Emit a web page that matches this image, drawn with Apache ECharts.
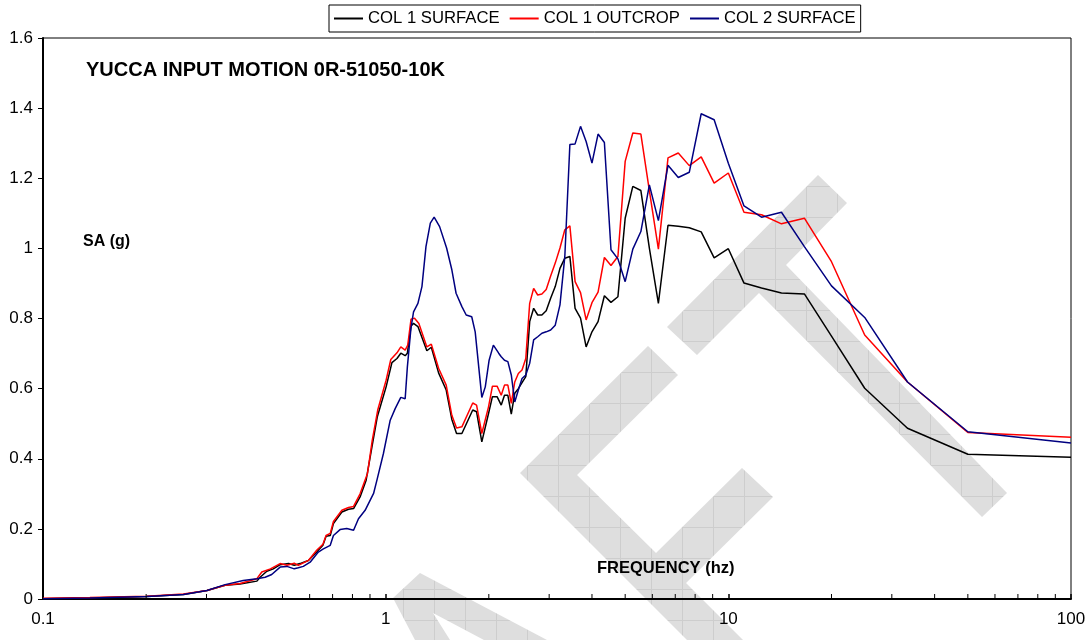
<!DOCTYPE html>
<html>
<head>
<meta charset="utf-8">
<script src="https://cdn.jsdelivr.net/npm/echarts@6/dist/echarts.min.js"></script>
<style>html,body{margin:0;padding:0;background:#fff}#c{width:1092px;height:640px}</style>
</head>
<body>
<div id="c"></div>
<script>
// ---------- DATA ----------
const SERIES_NAMES = ['COL 1 SURFACE', 'COL 1 OUTCROP', 'COL 2 SURFACE'];
const X_TICK_LABELS = ['0.1', '1', '10', '100'];
const Y_TICK_LABELS = ['0', '0.2', '0.4', '0.6', '0.8', '1', '1.2', '1.4', '1.6'];
const MINOR_X_TICKS = [0.2,0.3,0.4,0.5,0.6,0.7,0.8,0.9,2,3,4,5,6,7,8,9,20,30,40,50,60,70,80,90];

// shared high-frequency points (Hz)
const FREQ_HI = [100, 50, 33.33, 25, 20, 16.67, 14.29, 12.5, 11.11, 10, 9.091, 8.333, 7.692, 7.143, 6.667,
  6.25, 5.882, 5.556, 5.263, 5, 4.762, 4.545, 4.348, 4.167, 4, 3.846, 3.704, 3.571, 3.448, 3.333,
  3.226, 3.125, 3.03, 2.941, 2.857, 2.778, 2.703, 2.632, 2.564, 2.5, 2.439, 2.381, 2.326, 2.273, 2.222, 2.174];

const SURF1_HI = [0.404, 0.413, 0.487, 0.601, 0.75, 0.870, 0.873, 0.887, 0.901, 0.999, 0.973, 1.047, 1.059, 1.063, 1.066,
  0.843, 1.001, 1.165, 1.177, 1.086, 0.862, 0.846, 0.865, 0.791, 0.762, 0.719, 0.801, 0.829, 0.977, 0.972,
  0.943, 0.891, 0.858, 0.822, 0.810, 0.810, 0.829, 0.791, 0.634, 0.617, 0.600, 0.587, 0.527, 0.581, 0.581, 0.553];
const OUT1_HI = [0.461, 0.475, 0.619, 0.753, 0.962, 1.086, 1.070, 1.096, 1.103, 1.215, 1.186, 1.261, 1.236, 1.272, 1.258,
  0.998, 1.165, 1.326, 1.329, 1.248, 0.977, 0.951, 0.974, 0.875, 0.845, 0.796, 0.874, 0.905, 1.064, 1.053,
  1.001, 0.958, 0.921, 0.883, 0.870, 0.867, 0.886, 0.843, 0.686, 0.653, 0.643, 0.619, 0.558, 0.610, 0.610, 0.581];
const SURF2_HI = [0.445, 0.477, 0.619, 0.803, 0.893, 1.005, 1.103, 1.089, 1.121, 1.243, 1.367, 1.384, 1.217, 1.202, 1.237,
  1.079, 1.181, 1.048, 0.998, 0.905, 0.970, 0.996, 1.302, 1.326, 1.243, 1.305, 1.348, 1.298, 1.296, 0.977,
  0.839, 0.781, 0.767, 0.762, 0.758, 0.748, 0.739, 0.672, 0.639, 0.629, 0.596, 0.562, 0.639, 0.677, 0.681, 0.691];

// low-frequency points, per series
const SURF1_LO_FREQ = [2.114, 2.049, 1.996, 1.908, 1.842, 1.795, 1.669, 1.610, 1.560, 1.502, 1.427, 1.359, 1.319, 1.242, 1.206,
  1.186, 1.157, 1.140, 1.107, 1.079, 1.043, 1.003, 0.945, 0.912, 0.877, 0.842, 0.806, 0.779, 0.745, 0.704,
  0.689, 0.670, 0.656, 0.629, 0.595, 0.562, 0.541, 0.521, 0.492, 0.470, 0.450, 0.430, 0.421, 0.376, 0.340,
  0.301, 0.257, 0.201, 0.137, 0.1];
const SURF1_LO_SA = [0.577, 0.577, 0.529, 0.448, 0.534, 0.539, 0.472, 0.472, 0.512, 0.596, 0.645, 0.718, 0.708, 0.777, 0.786,
  0.779, 0.701, 0.694, 0.701, 0.686, 0.674, 0.605, 0.519, 0.434, 0.339, 0.291, 0.258, 0.256, 0.248, 0.215,
  0.181, 0.179, 0.153, 0.134, 0.110, 0.101, 0.096, 0.101, 0.098, 0.086, 0.079, 0.062, 0.051, 0.043, 0.039,
  0.024, 0.013, 0.007, 0.003, 0.001];

const OUT1_LO_FREQ = [2.114, 2.049, 1.996, 1.908, 1.842, 1.795, 1.669, 1.610, 1.560, 1.502, 1.427, 1.359, 1.319, 1.250, 1.214,
  1.186, 1.160, 1.140, 1.107, 1.079, 1.035, 1.003, 0.948, 0.914, 0.885, 0.842, 0.806, 0.779, 0.745, 0.704,
  0.689, 0.670, 0.656, 0.629, 0.595, 0.556, 0.541, 0.515, 0.492, 0.461, 0.435, 0.421, 0.376, 0.340, 0.301,
  0.257, 0.201, 0.137, 0.1];
const OUT1_LO_SA = [0.607, 0.607, 0.548, 0.472, 0.553, 0.559, 0.491, 0.488, 0.524, 0.610, 0.658, 0.727, 0.719, 0.786, 0.801,
  0.798, 0.724, 0.710, 0.719, 0.702, 0.683, 0.624, 0.539, 0.453, 0.358, 0.300, 0.264, 0.261, 0.253, 0.221,
  0.187, 0.181, 0.156, 0.139, 0.110, 0.096, 0.102, 0.096, 0.101, 0.086, 0.077, 0.058, 0.044, 0.039, 0.024,
  0.014, 0.008, 0.004, 0.002];

const SURF2_LO_FREQ = [2.137, 2.062, 2.004, 1.953, 1.908, 1.825, 1.783, 1.718, 1.669, 1.605, 1.560, 1.506, 1.437, 1.385, 1.350,
  1.311, 1.276, 1.242, 1.206, 1.185, 1.157, 1.140, 1.107, 1.066, 1.031, 0.985, 0.943, 0.922, 0.871, 0.833,
  0.806, 0.770, 0.736, 0.704, 0.689, 0.658, 0.636, 0.602, 0.575, 0.556, 0.541, 0.515, 0.492, 0.465, 0.445,
  0.421, 0.384, 0.340, 0.301, 0.257, 0.201, 0.137, 0.1];
const SURF2_LO_SA = [0.701, 0.724, 0.681, 0.605, 0.575, 0.762, 0.805, 0.810, 0.834, 0.872, 0.939, 1.001, 1.062, 1.089, 1.072,
  1.005, 0.891, 0.843, 0.819, 0.772, 0.662, 0.571, 0.575, 0.543, 0.510, 0.415, 0.339, 0.301, 0.253, 0.229,
  0.196, 0.201, 0.198, 0.181, 0.153, 0.143, 0.134, 0.105, 0.093, 0.089, 0.086, 0.093, 0.091, 0.070, 0.062,
  0.058, 0.053, 0.041, 0.024, 0.013, 0.007, 0.003, 0.001];

const TITLE_TEXT = 'YUCCA INPUT MOTION 0R-51050-10K';
const Y_NAME = 'SA (g)';
const X_NAME = 'FREQUENCY (hz)';

// ---------- BUILD ----------
function pairs(fx, vy) { return fx.map((f, i) => [f, vy[i]]); }
const dataS1 = pairs(FREQ_HI.concat(SURF1_LO_FREQ), SURF1_HI.concat(SURF1_LO_SA));
const dataO1 = pairs(FREQ_HI.concat(OUT1_LO_FREQ), OUT1_HI.concat(OUT1_LO_SA));
const dataS2 = pairs(FREQ_HI.concat(SURF2_LO_FREQ), SURF2_HI.concat(SURF2_LO_SA));

function makePattern() {
  const c = document.createElement('canvas');
  c.width = 31; c.height = 31;
  const ctx = c.getContext('2d');
  ctx.fillStyle = '#dedede'; ctx.fillRect(0, 0, 31, 31);
  ctx.fillStyle = '#cdcdcd'; ctx.fillRect(0, 0, 31, 1); ctx.fillRect(0, 0, 1, 31);
  return c;
}
const pat = { image: makePattern(), repeat: 'repeat' };
function wm(points) {
  return { type: 'polygon', z: -1, silent: true, shape: { points: points }, style: { fill: pat } };
}

const chart = echarts.init(document.getElementById('c'), null, { renderer: 'canvas' });
const FONT = 'Liberation Sans, Arial, Helvetica, sans-serif';
const lineColors = ['#000000', '#ff0000', '#000080'];

chart.setOption({
  animation: false,
  backgroundColor: '#ffffff',
  textStyle: { fontFamily: FONT, color: '#000' },
  graphic: [
    wm([[667,327],[818,175],[847,203],[786,265],[1007,493],[982,517],[759,293],[697,355]]),
    wm([[520,473],[648,346],[678,375],[577,475],[656,553],[742,468],[773,497],[686,583],[766,663],[710,663]]),
    wm([[393,598],[420,573],[547,640],[484,640],[433,613],[450,640],[415,640]])
  ],
  title: [
    { text: TITLE_TEXT, left: 86, top: 60, padding: 0, textStyle: { fontSize: 20, fontWeight: 'bold', color: '#000', fontFamily: FONT } },
    { text: Y_NAME, left: 83, top: 234, padding: 0, textStyle: { fontSize: 16, fontWeight: 'bold', color: '#000', fontFamily: FONT } },
    { text: X_NAME, left: 597, top: 560, padding: 0, textStyle: { fontSize: 16.5, fontWeight: 'bold', color: '#000', fontFamily: FONT } }
  ],
  legend: {
    data: SERIES_NAMES, left: 329, top: 5, icon: 'rect', itemWidth: 29, itemHeight: 2, itemGap: 10,
    padding: [5, 5, 5, 5], borderColor: '#000', borderWidth: 1,
    textStyle: { fontSize: 16.7, color: '#000', fontFamily: FONT }
  },
  grid: { left: 43, right: 21, top: 38, bottom: 41, show: true, borderColor: '#000', borderWidth: 1, backgroundColor: 'transparent' },
  xAxis: {
    type: 'log', logBase: 10, min: 0.1, max: 100,
    axisLine: { lineStyle: { color: '#000', width: 2 } },
    axisTick: { inside: true, length: 5, lineStyle: { color: '#000', width: 1.5 } },
    axisLabel: { fontSize: 17, color: '#000', margin: 12, fontFamily: FONT,
      formatter: function (v) { const i = Math.round(Math.log10(v)) + 1; return X_TICK_LABELS[i] !== undefined ? X_TICK_LABELS[i] : ''; } },
    splitLine: { show: false }
  },
  yAxis: {
    type: 'value', min: 0, max: 1.6, interval: 0.2,
    axisLine: { show: true, lineStyle: { color: '#000', width: 2 } },
    axisTick: { show: true, inside: false, length: 5, lineStyle: { color: '#000', width: 1 } },
    axisLabel: { fontSize: 17, color: '#000', margin: 10, fontFamily: FONT,
      formatter: function (v) { return Y_TICK_LABELS[Math.round(v / 0.2)]; } },
    splitLine: { show: false }
  },
  series: [
    { name: SERIES_NAMES[0], type: 'line', data: dataS1, symbol: 'none', z: 3, lineStyle: { color: lineColors[0], width: 1.5 }, itemStyle: { color: lineColors[0] } },
    { name: SERIES_NAMES[1], type: 'line', data: dataO1, symbol: 'none', z: 4, lineStyle: { color: lineColors[1], width: 1.5 }, itemStyle: { color: lineColors[1] } },
    { name: SERIES_NAMES[2], type: 'line', data: dataS2, symbol: 'none', z: 5, lineStyle: { color: lineColors[2], width: 1.5 }, itemStyle: { color: lineColors[2] } },
    { name: 'minorTicks', type: 'custom', silent: true, z: 6,
      data: MINOR_X_TICKS.map(v => [v, 0]),
      renderItem: function (params, api) {
        const p = api.coord([api.value(0), 0]);
        return { type: 'line', shape: { x1: p[0], y1: p[1], x2: p[0], y2: p[1] - 5 }, style: { stroke: '#000', lineWidth: 1 } };
      }
    }
  ]
});
</script>
</body>
</html>
